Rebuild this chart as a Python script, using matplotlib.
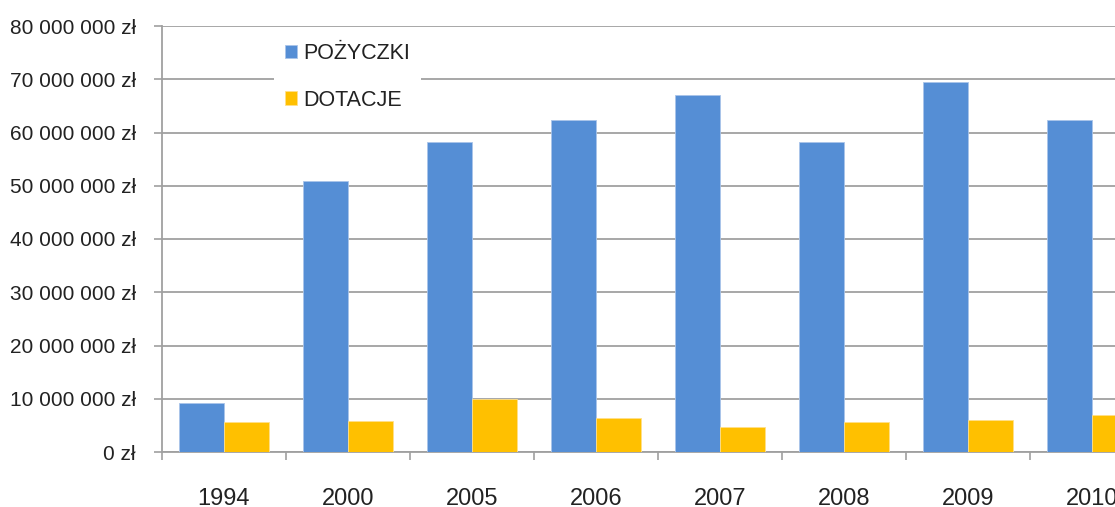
import matplotlib.pyplot as plt
from matplotlib.ticker import FuncFormatter, MultipleLocator
import numpy as np

lata = ["1994", "2000", "2005", "2006", "2007", "2008", "2009", "2010"]
pozyczki = [9150000, 50900000, 58200000, 62300000, 67000000, 58200000, 69500000, 62400000]
dotacje = [5600000, 5800000, 9950000, 6400000, 4700000, 5600000, 6100000, 6950000]

plt.rcParams["font.family"] = ["Liberation Sans", "DejaVu Sans"]

fig = plt.figure(figsize=(11.15, 5.07), dpi=100)
ax = fig.add_axes([162 / 1115, 55 / 507, 1 - 162 / 1115, 426 / 507])

x = np.arange(len(lata))
w = 0.36
ax.bar(x - w / 2, pozyczki, w, color="#558ED5", edgecolor="#a9c4ea", linewidth=0.6, label="POŻYCZKI", zorder=3)
ax.bar(x + w / 2, dotacje, w, color="#FFC000", edgecolor="#ffe08a", linewidth=0.6, label="DOTACJE", zorder=3)

ax.yaxis.set_major_locator(MultipleLocator(10000000))
ax.yaxis.set_major_formatter(FuncFormatter(lambda v, p: f"{int(v):,}".replace(",", " ") + " zł"))
ax.grid(axis="y", color="#a0a0a0", linewidth=1.3, zorder=0)

ax.set_xticks(x)
ax.set_xticklabels(lata)
ax.set_xticks(np.arange(-0.5, len(lata), 1), minor=True)
ax.set_ylim(0, 80000000)
ax.set_xlim(-0.5, (1115 - 162) / 124 - 0.5)
ax.tick_params(axis="x", which="major", length=0, pad=26, labelsize=17, labelcolor="#222222")
ax.tick_params(axis="x", which="minor", length=8 * 0.72, width=1.2, color="#a0a0a0")
ax.tick_params(axis="y", length=8 * 0.72, width=1.2, color="#a0a0a0", pad=13, labelsize=15, labelcolor="#222222")

for s in ["top", "right"]:
    ax.spines[s].set_visible(False)
ax.spines["left"].set_color("#a0a0a0")
ax.spines["left"].set_linewidth(1.3)
ax.spines["bottom"].set_color("#a0a0a0")
ax.spines["bottom"].set_linewidth(1.3)

leg = fig.legend(loc="upper left", bbox_to_anchor=(274 / 1115, 1 - 32 / 507), borderaxespad=0,
                 frameon=True, facecolor="white", edgecolor="none", fancybox=False, framealpha=1,
                 handlelength=0.56, handleheight=0.56, handletextpad=0.28, labelspacing=1.19,
                 fontsize=15.5, borderpad=0.51)
for t in leg.get_texts():
    t.set_color("#222222")

fig.savefig("out.png", dpi=100)
